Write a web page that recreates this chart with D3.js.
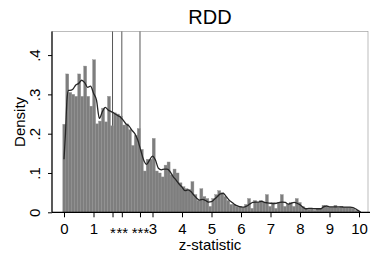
<!DOCTYPE html>
<html>
<head>
<meta charset="utf-8">
<script src="https://cdn.jsdelivr.net/npm/d3@7"></script>
<style>
  html, body { margin: 0; padding: 0; background: #fff; }
  svg { display: block; font-family: "Liberation Sans", Arial, sans-serif; }
</style>
</head>
<body>
<svg id="chart" width="370" height="253"></svg>
<script>
// ---- data ----
const binStart = -0.04;
const binWidth = 0.101;
const binDensity = [
  0.224, 0.352, 0.305, 0.300, 0.295, 0.352, 0.295, 0.372, 0.295, 0.270,
  0.388, 0.225, 0.232, 0.265, 0.230, 0.295, 0.220, 0.253, 0.250, 0.245,
  0.222, 0.225, 0.210, 0.170, 0.195, 0.213, 0.160, 0.105, 0.135, 0.135,
  0.188, 0.105, 0.100, 0.090, 0.120, 0.128, 0.095, 0.110, 0.100, 0.075,
  0.065, 0.060, 0.058, 0.078, 0.045, 0.030, 0.060, 0.040, 0.035, 0.015,
  0.035, 0.045, 0.055, 0.050, 0.040, 0.030, 0.020, 0.020, 0.015, 0.015,
  0.012, 0.020, 0.035, 0.010, 0.030, 0.025, 0.030, 0.025, 0.045, 0.015,
  0.025, 0.010, 0.025, 0.045, 0.015, 0.020, 0.025, 0.015, 0.035, 0.025,
  0.015, 0.010, 0.008, 0.010, 0.005, 0.010, 0.010, 0.018, 0.015, 0.013,
  0.013, 0.018, 0.012, 0.015, 0.013, 0.013, 0.013, 0.010, 0.005, 0.002
];
const kdeZ = [
  0.0, 0.05, 0.1, 0.15, 0.2, 0.3, 0.4, 0.5, 0.6, 0.7, 0.8, 0.9, 1.0, 1.1, 1.2, 1.3, 1.4, 1.5,
  1.6, 1.7, 1.8, 1.9, 2.0, 2.1, 2.2, 2.3, 2.4, 2.5, 2.6, 2.7, 2.8, 2.9, 3.0, 3.1, 3.2, 3.3,
  3.4, 3.5, 3.6, 3.7, 3.8, 3.9, 4.0, 4.1, 4.2, 4.3, 4.4, 4.5, 4.6, 4.7, 4.8, 4.9, 5.0, 5.1,
  5.2, 5.3, 5.4, 5.5, 5.6, 5.7, 5.8, 5.9, 6.0, 6.1, 6.2, 6.3, 6.4, 6.5, 6.6, 6.7, 6.8, 6.9,
  7.0, 7.1, 7.2, 7.3, 7.4, 7.5, 7.6, 7.7, 7.8, 7.9, 8.0, 8.1, 8.2, 8.3, 8.4, 8.5, 8.6, 8.7,
  8.8, 8.9, 9.0, 9.1, 9.2, 9.3, 9.4, 9.5, 9.6, 9.7, 9.8, 9.9, 10.0, 10.05
];
const kdeD = [
  0.135, 0.200, 0.285, 0.310, 0.310, 0.313, 0.324, 0.328, 0.336, 0.330, 0.318, 0.321, 0.303, 0.286, 0.239, 0.256, 0.267, 0.260,
  0.256, 0.252, 0.247, 0.243, 0.235, 0.225, 0.220, 0.209, 0.200, 0.184, 0.158, 0.133, 0.122, 0.133, 0.143, 0.133, 0.112, 0.108,
  0.110, 0.110, 0.103, 0.091, 0.082, 0.072, 0.064, 0.055, 0.057, 0.053, 0.044, 0.036, 0.031, 0.033, 0.030, 0.026, 0.027, 0.033,
  0.040, 0.047, 0.048, 0.040, 0.031, 0.025, 0.019, 0.016, 0.014, 0.013, 0.016, 0.021, 0.025, 0.026, 0.026, 0.028, 0.025, 0.024,
  0.023, 0.022, 0.023, 0.025, 0.026, 0.025, 0.021, 0.023, 0.025, 0.023, 0.019, 0.013, 0.009, 0.010, 0.010, 0.009, 0.009, 0.009,
  0.014, 0.016, 0.014, 0.014, 0.014, 0.014, 0.014, 0.013, 0.013, 0.013, 0.012, 0.008, 0.003, 0.001
];
const xTicks = [0, 1, 3, 4, 5, 6, 7, 8, 9, 10];
const starTicks = [1.645, 1.96, 2.576];
const starLabels = ["*", "**", "***"];
const yTicks = [0, 0.1, 0.2, 0.3, 0.4];
const yTickLabels = ["0", ".1", ".2", ".3", ".4"];
const titleText = "RDD";
const xTitle = "z-statistic";
const yTitle = "Density";

// ---- layout ----
const svg = d3.select("#chart");
const frame = { left: 52, right: 368, top: 31.5, bottom: 212.3 };
const x = d3.scaleLinear().domain([0, 10]).range([64, 359]);
const y = d3.scaleLinear().domain([0, 0.46]).range([frame.bottom, frame.top]);

// frame (light)
svg.append("rect")
  .attr("x", frame.left).attr("y", frame.top)
  .attr("width", frame.right - frame.left).attr("height", frame.bottom - frame.top)
  .attr("fill", "none").attr("stroke", "#a0a0a0").attr("stroke-width", 0.7);

// significance lines
svg.append("g").selectAll("line").data(starTicks).join("line")
  .attr("x1", d => x(d)).attr("x2", d => x(d))
  .attr("y1", frame.top).attr("y2", frame.bottom)
  .attr("stroke", "#444").attr("stroke-width", 0.9);

// histogram bars
svg.append("g").selectAll("rect").data(binDensity).join("rect")
  .attr("x", (d, i) => x(binStart + i * binWidth))
  .attr("width", x(binStart + binWidth) - x(binStart))
  .attr("y", d => y(d))
  .attr("height", d => y(0) - y(d))
  .attr("fill", "#7e7e7e")
  .attr("stroke", "#909090")
  .attr("stroke-width", 0.4);

// kernel density line
const line = d3.line().x(d => x(d[0])).y(d => y(d[1])).curve(d3.curveMonotoneX);
svg.append("path")
  .datum(kdeZ.map((z, i) => [z, kdeD[i]]))
  .attr("d", line)
  .attr("fill", "none")
  .attr("stroke", "#262626")
  .attr("stroke-width", 1.3);

// x axis
const gx = svg.append("g").attr("transform", `translate(0,${frame.bottom})`)
  .call(d3.axisBottom(x).tickValues(xTicks).tickSize(5).tickFormat(d3.format("d")));
gx.select(".domain").remove();
gx.selectAll("line").attr("stroke", "#000");
gx.selectAll("text").attr("y", 21.5).attr("dy", 0)
  .attr("font-size", 15).attr("font-family", "Liberation Sans, Arial, sans-serif").attr("fill", "#000");

const gs = svg.append("g").attr("transform", `translate(0,${frame.bottom})`)
  .call(d3.axisBottom(x).tickValues(starTicks).tickSize(5).tickFormat((d, i) => starLabels[i]));
gs.select(".domain").remove();
gs.selectAll("line").attr("stroke", "#000");
gs.selectAll("text").attr("y", 25.5).attr("dy", 0)
  .attr("font-size", 15).attr("font-family", "Liberation Sans, Arial, sans-serif").attr("fill", "#000");

// y axis
const gy = svg.append("g").attr("transform", `translate(${frame.left},0)`)
  .call(d3.axisLeft(y).tickValues(yTicks).tickSize(4).tickFormat((d, i) => yTickLabels[i]));
gy.select(".domain").remove();
gy.selectAll("line").attr("stroke", "#000");
gy.selectAll("text")
  .attr("transform", "rotate(-90)")
  .attr("x", 0).attr("y", -12.5).attr("dy", 0)
  .attr("text-anchor", "middle")
  .attr("font-size", 15).attr("font-family", "Liberation Sans, Arial, sans-serif").attr("fill", "#000");

// axis lines
svg.append("line").attr("x1", frame.left).attr("x2", 370)
  .attr("y1", frame.bottom).attr("y2", frame.bottom)
  .attr("stroke", "#000").attr("stroke-width", 1.2);
svg.append("line").attr("x1", frame.left).attr("x2", frame.left)
  .attr("y1", frame.top).attr("y2", frame.bottom)
  .attr("stroke", "#000").attr("stroke-width", 1.2);

// titles
svg.append("text").attr("x", (frame.left + frame.right) / 2).attr("y", 24)
  .attr("text-anchor", "middle").attr("font-size", 20).attr("fill", "#000").text(titleText);
svg.append("text").attr("x", (frame.left + frame.right) / 2).attr("y", 249.5)
  .attr("text-anchor", "middle").attr("font-size", 15).attr("fill", "#000").text(xTitle);
svg.append("text")
  .attr("transform", `translate(25,${(frame.top + frame.bottom) / 2}) rotate(-90)`)
  .attr("text-anchor", "middle").attr("font-size", 15).attr("fill", "#000").text(yTitle);
</script>
</body>
</html>
